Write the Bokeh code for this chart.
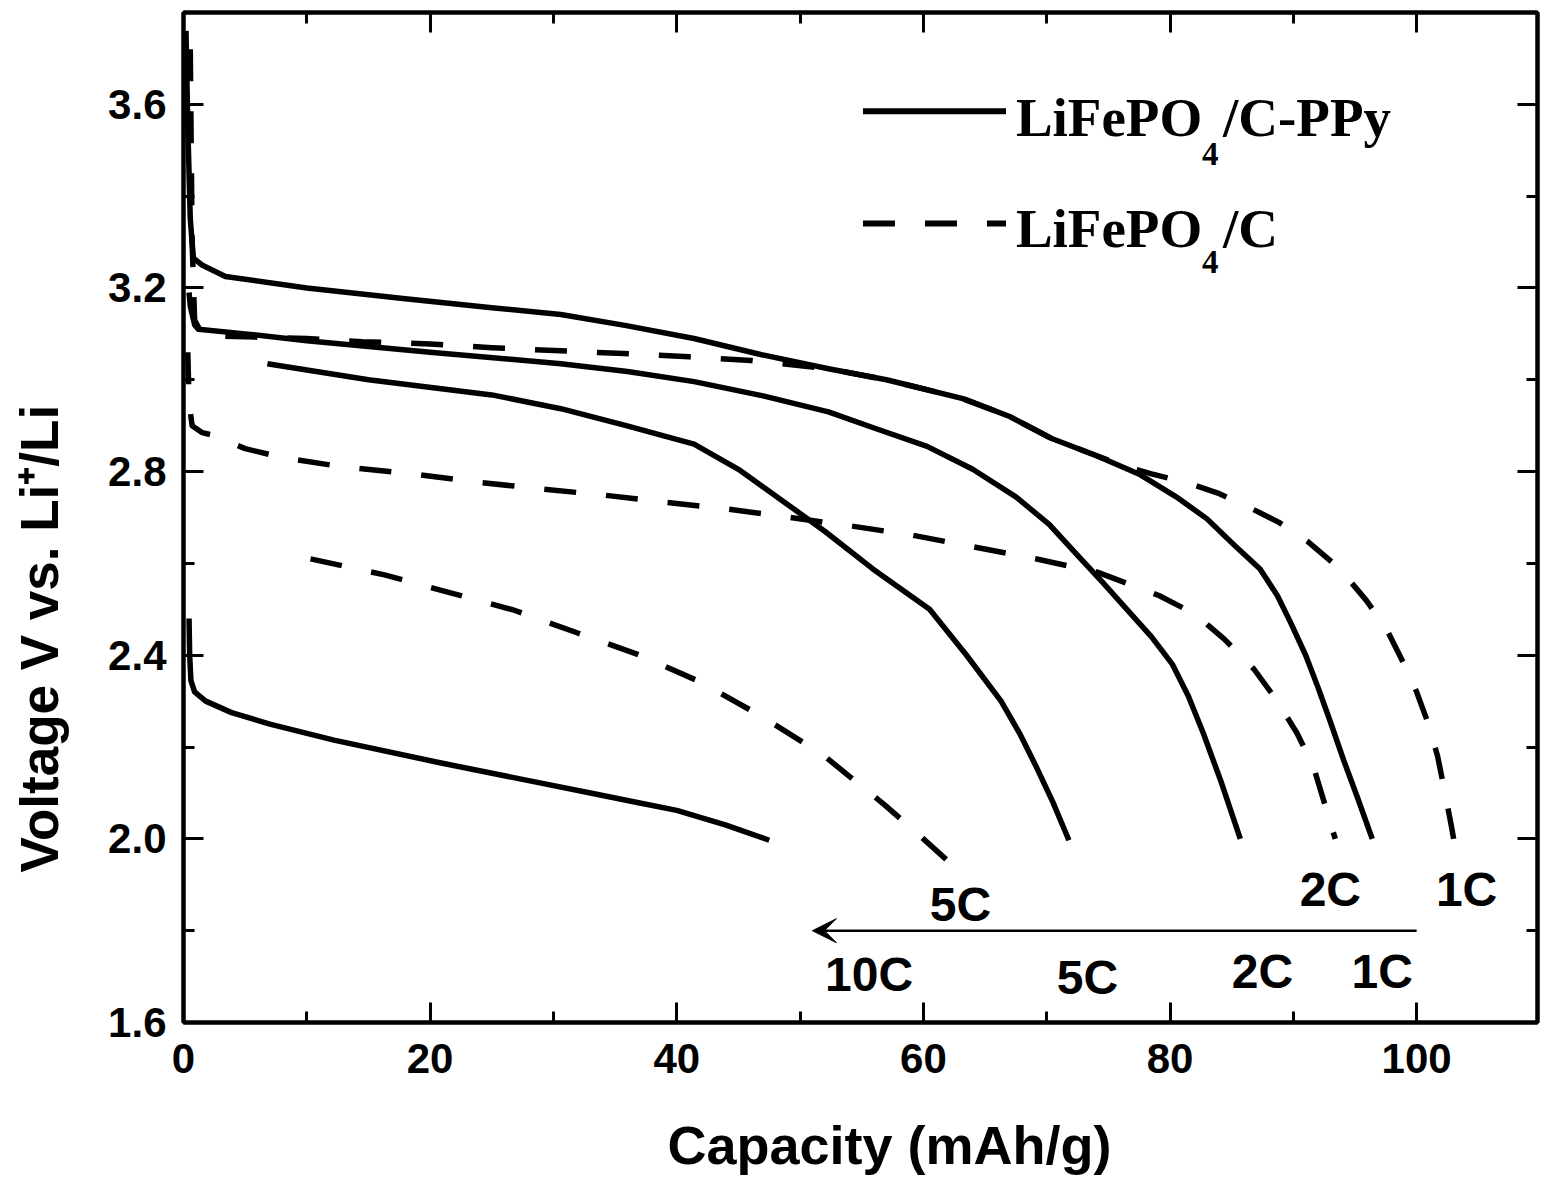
from bokeh.plotting import figure
from bokeh.models import (Range1d, LinearAxis, FixedTicker, Label, Arrow, VeeHead,
                          PrintfTickFormatter, Title)
from bokeh.embed import file_html
from bokeh.resources import INLINE

# ---------------- data ----------------
# LiFePO4/C-PPy (solid lines)
ppy_1c_cap = [0.2, 0.35, 0.55, 0.8, 1.5, 3.4, 10, 17.8, 25, 30.6, 35.9, 41.4, 46.8, 52.3, 57, 63.2,
              67, 70.4, 74, 77.6, 80.5, 83, 85.2, 87.3, 88.7, 89.8, 91, 92, 93, 94.1, 95.2, 96.4]
ppy_1c_v = [3.76, 3.55, 3.35, 3.265, 3.25, 3.225, 3.2, 3.177, 3.157, 3.142, 3.118, 3.09, 3.055, 3.024,
            3.0, 2.959, 2.92, 2.872, 2.835, 2.793, 2.745, 2.697, 2.64, 2.588, 2.53, 2.47, 2.40, 2.33,
            2.255, 2.17, 2.09, 2.0]

ppy_2c_cap = [0.45, 0.55, 0.9, 1.2, 5, 10, 20, 30.6, 36, 41.4, 47, 52.3, 56, 60.3, 64, 67.5, 70.2,
              72.6, 74.5, 76.5, 78.5, 80.2, 81.5, 82.7, 84.2, 85.7]
ppy_2c_v = [3.19, 3.16, 3.12, 3.11, 3.10, 3.085, 3.06, 3.035, 3.018, 2.996, 2.965, 2.93, 2.895, 2.855,
            2.805, 2.745, 2.685, 2.615, 2.56, 2.50, 2.44, 2.38, 2.31, 2.23, 2.12, 2.0]

ppy_5c_cap = [6.8, 15, 25, 30.6, 35.9, 41.4, 45, 48.7, 52, 55.9, 60.5, 63.5, 66.3, 67.8, 69.1, 70.5, 71.8]
ppy_5c_v = [3.035, 3.0, 2.967, 2.937, 2.90, 2.86, 2.805, 2.734, 2.67, 2.588, 2.50, 2.40, 2.30, 2.23,
            2.16, 2.08, 1.997]

ppy_10c_cap = [0.45, 0.5, 0.6, 0.9, 1.8, 3.9, 7, 12.2, 20.4, 28.7, 33, 37, 40, 44, 47.5]
ppy_10c_v = [2.48, 2.40, 2.345, 2.32, 2.30, 2.275, 2.25, 2.215, 2.168, 2.123, 2.10, 2.078, 2.062,
             2.03, 1.997]

# LiFePO4/C (dashed lines)
c_1c_cap = [0.55, 0.7, 0.9, 1.5, 3, 10, 14.5, 20, 25, 30.6, 35.7, 41, 46, 48.5, 52.3, 57, 63.2, 67,
            70.4, 74, 76.5, 78.5, 81.5, 84, 86.2, 88.8, 91.2, 93.7, 95.9, 97.5, 98.8, 100, 100.9,
            101.7, 102.3, 102.8, 103]
c_1c_v = [3.72, 3.3, 3.13, 3.10, 3.095, 3.09, 3.083, 3.078, 3.07, 3.063, 3.057, 3.05, 3.042, 3.035,
          3.024, 3.0, 2.959, 2.92, 2.872, 2.835, 2.81, 2.795, 2.775, 2.752, 2.725, 2.69, 2.647, 2.59,
          2.52, 2.46, 2.39, 2.32, 2.254, 2.18, 2.10, 2.03, 2.0]

c_2c_cap = [0.35, 0.45, 0.7, 1.5, 2.3, 5, 8.1, 13, 18.6, 23.5, 28.7, 34, 38.8, 43.9, 49, 54, 59, 64.1,
            69.1, 74.1, 79.1, 82, 84.4, 86.8, 88.7, 90.3, 91.6, 93.4]
c_2c_v = [3.06, 2.95, 2.90, 2.885, 2.88, 2.85, 2.83, 2.81, 2.795, 2.778, 2.763, 2.749, 2.734, 2.719,
          2.701, 2.682, 2.662, 2.636, 2.61, 2.581, 2.53, 2.49, 2.435, 2.37, 2.30, 2.23, 2.16, 2.0]

c_5c_cap = [10.3, 16.3, 21.5, 26.7, 31.8, 37, 41.9, 47, 51.9, 56.9, 60, 63.3]
c_5c_v = [2.61, 2.575, 2.537, 2.499, 2.45, 2.40, 2.342, 2.265, 2.182, 2.073, 2.0, 1.92]

x_ticks = [0, 20, 40, 60, 80, 100]
y_ticks = [1.6, 2.0, 2.4, 2.8, 3.2, 3.6]

x_title = "Capacity (mAh/g)"
y_title = "Voltage V vs. Li\u207a/Li"
legend_names = [("LiFePO", "4", "/C-PPy"), ("LiFePO", "4", "/C")]
rate_labels_c = ["5C", "2C", "1C"]           # LiFePO4/C, above the arrow
rate_labels_ppy = ["10C", "5C", "2C", "1C"]  # LiFePO4/C-PPy, below the arrow

# ---------------- figure ----------------
p = figure(width=1543, height=1191, output_backend="svg", toolbar_location=None,
           x_range=Range1d(0, 109.8), y_range=Range1d(1.6, 3.8),
           min_border_left=183, min_border_right=6, min_border_top=12, min_border_bottom=169)
p.background_fill_color = "white"
p.border_fill_color = "white"
p.grid.visible = False
p.outline_line_color = "black"
p.outline_line_width = 4

LW = 5.5
DASH = "32 30"
for xs, ys in [(ppy_1c_cap, ppy_1c_v), (ppy_2c_cap, ppy_2c_v), (ppy_5c_cap, ppy_5c_v), (ppy_10c_cap, ppy_10c_v)]:
    p.line(xs, ys, line_color="black", line_width=LW, line_join="round")
for xs, ys in [(c_1c_cap, c_1c_v), (c_2c_cap, c_2c_v), (c_5c_cap, c_5c_v)]:
    p.line(xs, ys, line_color="black", line_width=LW, line_dash=DASH, line_join="round")


def style_axis(ax, show_labels):
    ax.axis_line_width = 4
    ax.axis_line_color = "black"
    ax.major_tick_in = 20
    ax.major_tick_out = 0
    ax.minor_tick_in = 11
    ax.minor_tick_out = 0
    ax.major_tick_line_width = 3
    ax.minor_tick_line_width = 3
    ax.major_label_text_font = "Liberation Sans"
    ax.major_label_text_font_style = "bold"
    if show_labels:
        ax.major_label_text_font_size = "42px"
        ax.major_label_text_color = "black"
    else:
        ax.major_label_text_font_size = "2px"
        ax.major_label_text_color = None
        ax.major_label_standoff = 0


def spacer_axis(ticker, gap):
    # invisible axis: only its (hidden) outer tick length reserves room before the title
    ax = LinearAxis(ticker=ticker)
    ax.axis_line_color = None
    ax.major_tick_line_color = None
    ax.minor_tick_line_color = None
    ax.major_tick_in = 0
    ax.major_tick_out = gap
    ax.minor_tick_in = 0
    ax.minor_tick_out = 0
    ax.major_label_text_font_size = "2px"
    ax.major_label_text_color = None
    ax.major_label_standoff = 0
    return ax


xt = FixedTicker(ticks=x_ticks, minor_ticks=list(range(0, 111, 10)))
yt = FixedTicker(ticks=y_ticks, minor_ticks=[round(1.6 + 0.2 * i, 1) for i in range(12)])

p.xaxis.ticker = xt
p.yaxis.ticker = yt
p.yaxis.formatter = PrintfTickFormatter(format="%.1f")
style_axis(p.xaxis[0], True)
style_axis(p.yaxis[0], True)
p.xaxis.major_label_standoff = 21
p.yaxis.major_label_standoff = 17

top = LinearAxis(ticker=xt)
right = LinearAxis(ticker=yt)
style_axis(top, False)
style_axis(right, False)
p.add_layout(top, "above")
p.add_layout(right, "right")

# ---------------- axis titles (placed off-centre like the reference) ----------------
p.add_layout(spacer_axis(xt, 37), "below")
p.add_layout(spacer_axis(yt, 37), "left")
p.add_layout(Title(text=x_title, align="left", offset=484, standoff=0,
                   text_font="Liberation Sans", text_font_style="bold", text_font_size="54px",
                   text_color="black"), "below")
p.add_layout(Title(text=y_title, align="left", offset=150, standoff=0,
                   text_font="Liberation Sans", text_font_style="bold", text_font_size="53px",
                   text_color="black"), "left")

# ---------------- legend (custom, with subscripts) ----------------
leg_y_line = [3.5847, 3.3405]
leg_y_text = [3.5716, 3.3296]
leg_y_sub = [3.491, 3.2576]
p.line([55.1, 66.7], [leg_y_line[0]] * 2, line_color="black", line_width=6)
p.line([55.1, 66.7], [leg_y_line[1]] * 2, line_color="black", line_width=6, line_dash=DASH)
for i, (a, sub, b) in enumerate(legend_names):
    p.add_layout(Label(x=67.5, y=leg_y_text[i], text=a, text_font="Liberation Serif",
                       text_font_style="bold", text_font_size="55px", text_color="black",
                       text_baseline="middle"))
    p.add_layout(Label(x=82.6, y=leg_y_sub[i], text=sub, text_font="Liberation Serif",
                       text_font_style="bold", text_font_size="33px", text_color="black",
                       text_baseline="middle"))
    p.add_layout(Label(x=84.3, y=leg_y_text[i], text=b, text_font="Liberation Serif",
                       text_font_style="bold", text_font_size="55px", text_color="black",
                       text_baseline="middle"))

# ---------------- rate arrow and labels ----------------
p.add_layout(Arrow(end=VeeHead(size=24, fill_color="black", line_color="black", line_width=1),
                   x_start=100, y_start=1.8, x_end=51, y_end=1.8,
                   line_color="black", line_width=2.5))

pos_c = [(63.0, 1.857), (93.0, 1.890), (104.05, 1.890)]
pos_ppy = [(55.6, 1.705), (73.3, 1.697), (87.5, 1.712), (97.2, 1.712)]
for t, (x, y) in zip(rate_labels_c + rate_labels_ppy, pos_c + pos_ppy):
    p.add_layout(Label(x=x, y=y, text=t, text_font="Liberation Sans", text_font_style="bold",
                       text_font_size="48px", text_color="black", text_align="center",
                       text_baseline="middle"))

open("out.html", "w").write(file_html(p, INLINE))
